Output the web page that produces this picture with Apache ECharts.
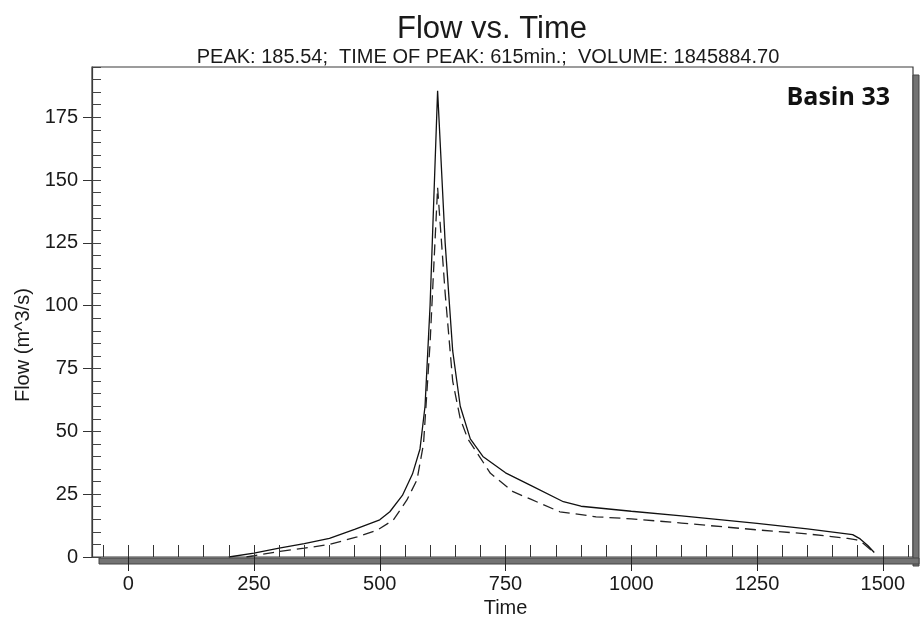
<!DOCTYPE html>
<html><head><meta charset="utf-8">
<script src="https://cdn.jsdelivr.net/npm/echarts@6/dist/echarts.min.js"></script>
<style>html,body{margin:0;padding:0;background:#fff}#c{width:922px;height:621px}</style>
</head><body><div id="c"></div>
<script>
// ---- data ----
const solidTime = [200,250,300,350,400,450,500,520,545,565,580,590,600,615,630,645,660,680,705,750,800,865,900,940,1000,1100,1250,1350,1440,1455,1470,1483];
const solidFlow = [0,1.5,3.5,5.3,7.4,11,14.8,18,24.5,33,43,60,100,185.54,125,82,60,47,40,33.5,28.5,22,20.2,19.4,18.2,16.4,13.4,11.2,8.9,7.2,4.6,1.8];
const dashedTime = [235,250,300,350,400,455,495,527,554,574,587,600,615,630,645,660,675,690,720,765,800,858,930,1000,1100,1250,1350,1430,1448,1462,1482];
const dashedFlow = [0,0.5,2.2,3.5,5,8,10.7,14.7,22.7,30.7,45,85,147,105,70,55,47,42.5,33.3,26,23,18,16,15.2,13.5,10.8,9.2,7.4,6.8,5.3,1.8];
const xTickLabels = [0,250,500,750,1000,1250,1500];
const yTickLabels = [0,25,50,75,100,125,150,175];
const titleText = 'Flow vs. Time';
const subtitleText = 'PEAK: 185.54;  TIME OF PEAK: 615min.;  VOLUME: 1845884.70';
const basinLabel = 'Basin 33';
const xName = 'Time';
const yName = 'Flow (m^3/s)';

// ---- layout ----
const W = 922, H = 621;
const L = 92, R = 913, T = 67, B = 557;
const XMIN = -72, XMAX = 1560, YMIN = 0, YMAX = 195;
const px = v => L + (v - XMIN) / (XMAX - XMIN) * (R - L);
const py = v => B - (v - YMIN) / (YMAX - YMIN) * (B - T);
const font = 'Liberation Sans, Arial, sans-serif';
const ink = '#1a1a1a';
const axisCol = '#3a3a3a';
const plain = v => String(v);

const xMajMin = xTickLabels[0], xMajMax = xTickLabels[xTickLabels.length - 1];
const yMajMin = yTickLabels[0], yMajMax = yTickLabels[yTickLabels.length - 1];

const solidData = solidTime.map((t, i) => [t, solidFlow[i]]);
const dashedData = dashedTime.map((t, i) => [t, dashedFlow[i]]);

const gridBase = {outerBoundsMode: 'none', containLabel: false};

const chart = echarts.init(document.getElementById('c'), null, {renderer: 'canvas'});
chart.setOption({
  animation: false,
  backgroundColor: '#fff',
  title: [
    {text: titleText, left: 487, top: 9, textAlign: 'center',
     textStyle: {fontFamily: font, fontSize: 31, fontWeight: 'normal', color: ink}},
    {text: subtitleText, left: 483, top: 42, textAlign: 'center',
     textStyle: {fontFamily: font, fontSize: 20, fontWeight: 'normal', color: ink}},
    {text: basinLabel, right: W - 895, top: 80,
     textStyle: {fontFamily: 'Open Sans, sans-serif', fontSize: 25, fontWeight: 'bold', color: '#111'}}
  ],
  grid: [
    Object.assign({left: L, top: T, width: R - L, height: B - T, show: true, backgroundColor: '#fff', borderColor: axisCol, borderWidth: 1.2}, gridBase),
    Object.assign({left: px(-50), top: T, width: px(1550) - px(-50), height: B - T}, gridBase),
    Object.assign({left: px(xMajMin), top: T, width: px(xMajMax) - px(xMajMin), height: B - T}, gridBase),
    Object.assign({left: L, top: py(yMajMax), width: R - L, height: py(yMajMin) - py(yMajMax)}, gridBase)
  ],
  xAxis: [
    {gridIndex: 0, type: 'value', min: XMIN, max: XMAX, show: false},
    {gridIndex: 1, type: 'value', min: -50, max: 1550, interval: 50, z: 5,
     axisLine: {show: false, onZero: false}, splitLine: {show: false}, axisLabel: {show: false},
     axisTick: {show: true, inside: true, length: 12, lineStyle: {color: '#333', width: 1}}},
    {gridIndex: 2, type: 'value', min: xMajMin, max: xMajMax, interval: 250, z: 5,
     axisLine: {show: false, onZero: false}, splitLine: {show: false},
     axisTick: {show: true, inside: false, length: 14, lineStyle: {color: '#222', width: 1}},
     axisLabel: {show: true, margin: 17, fontFamily: font, fontSize: 20, color: ink, formatter: plain},
     name: xName, nameLocation: 'middle', nameGap: 41,
     nameTextStyle: {fontFamily: font, fontSize: 20, color: ink}},
    {gridIndex: 3, type: 'value', show: false, min: 0, max: 1}
  ],
  yAxis: [
    {gridIndex: 0, type: 'value', min: YMIN, max: YMAX, interval: 5, z: 5,
     axisLine: {show: true, onZero: false, lineStyle: {color: axisCol, width: 1.2}}, splitLine: {show: false}, axisLabel: {show: false},
     axisTick: {show: true, inside: true, length: 9, lineStyle: {color: '#444', width: 1}}},
    {gridIndex: 1, type: 'value', show: false, min: 0, max: 1},
    {gridIndex: 2, type: 'value', show: false, min: 0, max: 1},
    {gridIndex: 3, type: 'value', min: yMajMin, max: yMajMax, interval: 25, z: 5,
     axisLine: {show: false, onZero: false}, splitLine: {show: false},
     axisTick: {show: true, inside: false, length: 9, lineStyle: {color: '#333', width: 1}},
     axisLabel: {show: true, margin: 14, fontFamily: font, fontSize: 20, color: ink, formatter: plain},
     name: yName, nameLocation: 'middle', nameGap: 57,
     nameTextStyle: {fontFamily: font, fontSize: 20, color: ink, padding: [0, 16, 0, 0]}}
  ],
  graphic: [
    {type: 'rect', z: 3, shape: {x: R, y: T + 8, width: 6, height: B - T + 1},
     style: {fill: '#737373', stroke: '#444', lineWidth: 1}},
    {type: 'rect', z: 3, shape: {x: L + 7, y: B + 1, width: R - L - 1, height: 6},
     style: {fill: '#737373', stroke: '#444', lineWidth: 1}}
  ],
  series: [
    {type: 'line', xAxisIndex: 0, yAxisIndex: 0, data: solidData, symbol: 'none', z: 4,
     lineStyle: {color: '#111', width: 1.3, type: 'solid'}},
    {type: 'line', xAxisIndex: 0, yAxisIndex: 0, data: dashedData, symbol: 'none', z: 4,
     lineStyle: {color: '#222', width: 1.3, type: [11, 6]}}
  ]
});
</script></body></html>
